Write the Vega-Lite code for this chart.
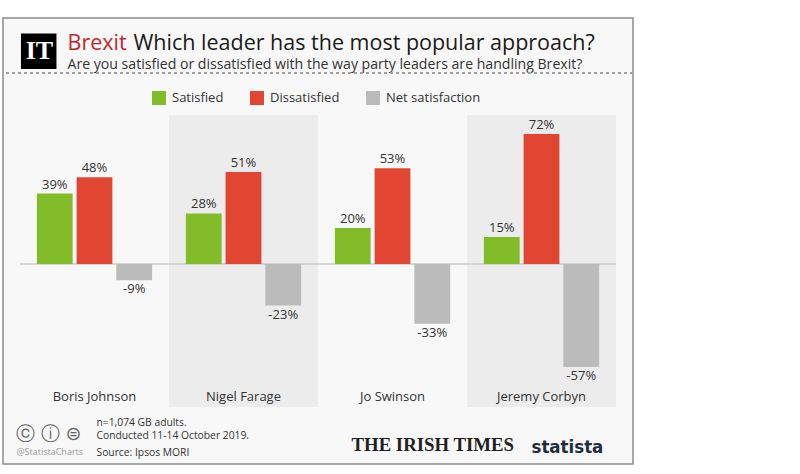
{
  "$schema": "https://vega.github.io/schema/vega-lite/v6.json",
  "width": 630,
  "height": 446,
  "autosize": {"type": "none"},
  "padding": {"left": 3, "top": 18, "right": 167, "bottom": 10},
  "background": "#ffffff",
  "config": {
    "font": "Open Sans",
    "view": {"stroke": "#8c8c8c", "strokeWidth": 1.5, "fill": "#f8f8f8"},
    "axis": {"domain": false, "ticks": false, "labels": false, "grid": false, "titleAngle": 0, "titleAlign": "left", "titleBaseline": "alphabetic", "titleFont": "Open Sans", "titleFontWeight": "normal", "titlePadding": 0},
    "locale": {"number": {"decimal": ".", "thousands": ",", "grouping": [3], "currency": ["$", ""], "minus": "-"}}
  },
  "data": {
    "values": [
      {"leader": "Boris Johnson", "series": "Satisfied", "value": 0.39},
      {"leader": "Boris Johnson", "series": "Dissatisfied", "value": 0.48},
      {"leader": "Boris Johnson", "series": "Net satisfaction", "value": -0.09},
      {"leader": "Nigel Farage", "series": "Satisfied", "value": 0.28},
      {"leader": "Nigel Farage", "series": "Dissatisfied", "value": 0.51},
      {"leader": "Nigel Farage", "series": "Net satisfaction", "value": -0.23},
      {"leader": "Jo Swinson", "series": "Satisfied", "value": 0.20},
      {"leader": "Jo Swinson", "series": "Dissatisfied", "value": 0.53},
      {"leader": "Jo Swinson", "series": "Net satisfaction", "value": -0.33},
      {"leader": "Jeremy Corbyn", "series": "Satisfied", "value": 0.15},
      {"leader": "Jeremy Corbyn", "series": "Dissatisfied", "value": 0.72},
      {"leader": "Jeremy Corbyn", "series": "Net satisfaction", "value": -0.57}
    ]
  },
  "resolve": {"axis": {"x": "independent", "y": "independent"}},
  "layer": [
    {
      "transform": [{"filter": "datum.series == 'Satisfied' && (datum.leader == 'Nigel Farage' || datum.leader == 'Jeremy Corbyn')"}],
      "mark": {"type": "bar", "color": "#ececec"},
      "encoding": {
        "x": {"field": "leader", "type": "nominal",
          "scale": {"domain": ["Boris Johnson", "Nigel Farage", "Jo Swinson", "Jeremy Corbyn"], "paddingInner": 0, "paddingOuter": 0.114},
          "axis": {"orient": "bottom", "offset": -68, "zindex": 2, "labels": true, "labelFontSize": 13, "labelColor": "#333333", "labelPadding": 0, "tickSize": 0, "labelBaseline": "middle", "labelAngle": 0, "labelOverlap": false,
            "title": "n=1,074 GB adults.",
            "titleX": 93, "titleY": 29.5, "titleFontSize": 10.3, "titleColor": "#333333"}},
        "y": {"datum": 0.825, "type": "quantitative",
          "scale": {"domain": [-1.107, 1.362], "nice": false, "zero": false},
          "axis": {"orient": "left", "title": "Brexit", "titleX": 64, "titleY": 31, "titleFontSize": 21.5, "titleFontWeight": 500, "titleColor": "#c1272d"}},
        "y2": {"datum": -0.7915}
      }
    },
    {
      "transform": [{"filter": "datum.series == 'Satisfied'"}],
      "mark": {"type": "bar", "color": "#cccccc"},
      "encoding": {
        "x": {"field": "leader", "type": "nominal",
          "axis": {"orient": "top", "title": "THE IRISH TIMES", "titleX": 348, "titleY": 432, "titleFont": "Liberation Serif", "titleFontWeight": "bold", "titleFontSize": 18.8, "titleColor": "#231f20"}},
        "y": {"datum": 0.004, "type": "quantitative",
          "axis": {"orient": "left", "title": "Which leader has the most popular approach?", "titleX": 130, "titleY": 31, "titleFontSize": 21.5, "titleFontWeight": 500, "titleColor": "#1a1a1a"}},
        "y2": {"datum": -0.004}
      }
    },
    {
      "mark": {"type": "rule", "color": "#a0a0a0", "strokeDash": [3, 3], "strokeWidth": 1},
      "encoding": {
        "y": {"datum": 1.0576, "type": "quantitative",
          "axis": {"orient": "right", "title": "Are you satisfied or dissatisfied with the way party leaders are handling Brexit?", "titleX": -566, "titleY": 50, "titleFontSize": 14.1, "titleColor": "#333333"}}
      }
    },
    {
      "mark": {"type": "bar"},
      "encoding": {
        "x": {"field": "leader", "type": "nominal",
          "axis": {"orient": "top", "title": "statista", "titleX": 528, "titleY": 434, "titleFont": "DejaVu Sans Condensed", "titleFontWeight": "bold", "titleFontSize": 18.5, "titleColor": "#1f2d3d"}},
        "xOffset": {"field": "series", "type": "nominal",
          "scale": {"domain": ["Satisfied", "Dissatisfied", "Net satisfaction"], "paddingInner": 0.1, "paddingOuter": 0.425}},
        "y": {"field": "value", "type": "quantitative",
          "axis": {"orient": "right", "title": "@StatistaCharts", "titleX": -617, "titleY": 436, "titleFontSize": 9, "titleColor": "#999999"}},
        "color": {"field": "series", "type": "nominal",
          "scale": {"domain": ["Satisfied", "Dissatisfied", "Net satisfaction"], "range": ["#82bc28", "#e04632", "#bbbbbb"]},
          "legend": {"orient": "none", "legendX": 149, "legendY": 73, "direction": "horizontal", "title": null, "padding": 0, "symbolType": "square", "symbolSize": 196, "symbolStrokeWidth": 0, "labelFontSize": 13, "labelColor": "#333333", "labelOffset": 6, "columnPadding": 26}}
      }
    },
    {
      "transform": [{"filter": "datum.value >= 0"}],
      "mark": {"type": "text", "baseline": "bottom", "dy": -2, "fontSize": 13, "color": "#333333"},
      "encoding": {
        "x": {"field": "leader", "type": "nominal",
          "axis": {"orient": "top", "title": "ⓒ ⓘ ⊜", "titleX": 12, "titleY": 421, "titleFont": "DejaVu Sans", "titleFontSize": 19, "titleColor": "#666666"}},
        "xOffset": {"field": "series", "type": "nominal"},
        "y": {"field": "value", "type": "quantitative", "axis": null},
        "text": {"field": "value", "type": "quantitative", "format": ".0%"}
      }
    },
    {
      "transform": [{"filter": "datum.value < 0"}],
      "mark": {"type": "text", "baseline": "top", "dy": 3, "fontSize": 13, "color": "#333333"},
      "encoding": {
        "x": {"field": "leader", "type": "nominal",
          "axis": {"orient": "top", "title": "Source: Ipsos MORI", "titleX": 93, "titleY": 437, "titleFontSize": 10.3, "titleColor": "#333333"}},
        "xOffset": {"field": "series", "type": "nominal"},
        "y": {"field": "value", "type": "quantitative", "axis": null},
        "text": {"field": "value", "type": "quantitative", "format": ".0%"}
      }
    },
    {
      "transform": [{"filter": "datum.series == 'Satisfied' && datum.leader == 'Boris Johnson'"}],
      "mark": {"type": "bar", "opacity": 0},
      "encoding": {
        "x": {"field": "leader", "type": "nominal",
          "axis": {"orient": "top", "title": "Conducted 11-14 October 2019.", "titleX": 93, "titleY": 420, "titleFontSize": 10.3, "titleColor": "#333333"}},
        "y": {"datum": 0, "type": "quantitative", "axis": null},
        "y2": {"datum": 0},
        "fill": {"datum": "IT", "type": "nominal", "scale": {"domain": ["IT"], "range": ["#000000"]},
          "legend": {"orient": "none", "legendX": 17.7, "legendY": 15.3, "title": null, "padding": 0, "symbolType": "square", "symbolSize": 1260, "symbolOpacity": 1, "symbolStrokeWidth": 0, "labelColor": "#ffffff", "labelFont": "Liberation Serif", "labelFontWeight": "bold", "labelFontSize": 26, "labelOffset": -31}}
      }
    }
  ]
}
